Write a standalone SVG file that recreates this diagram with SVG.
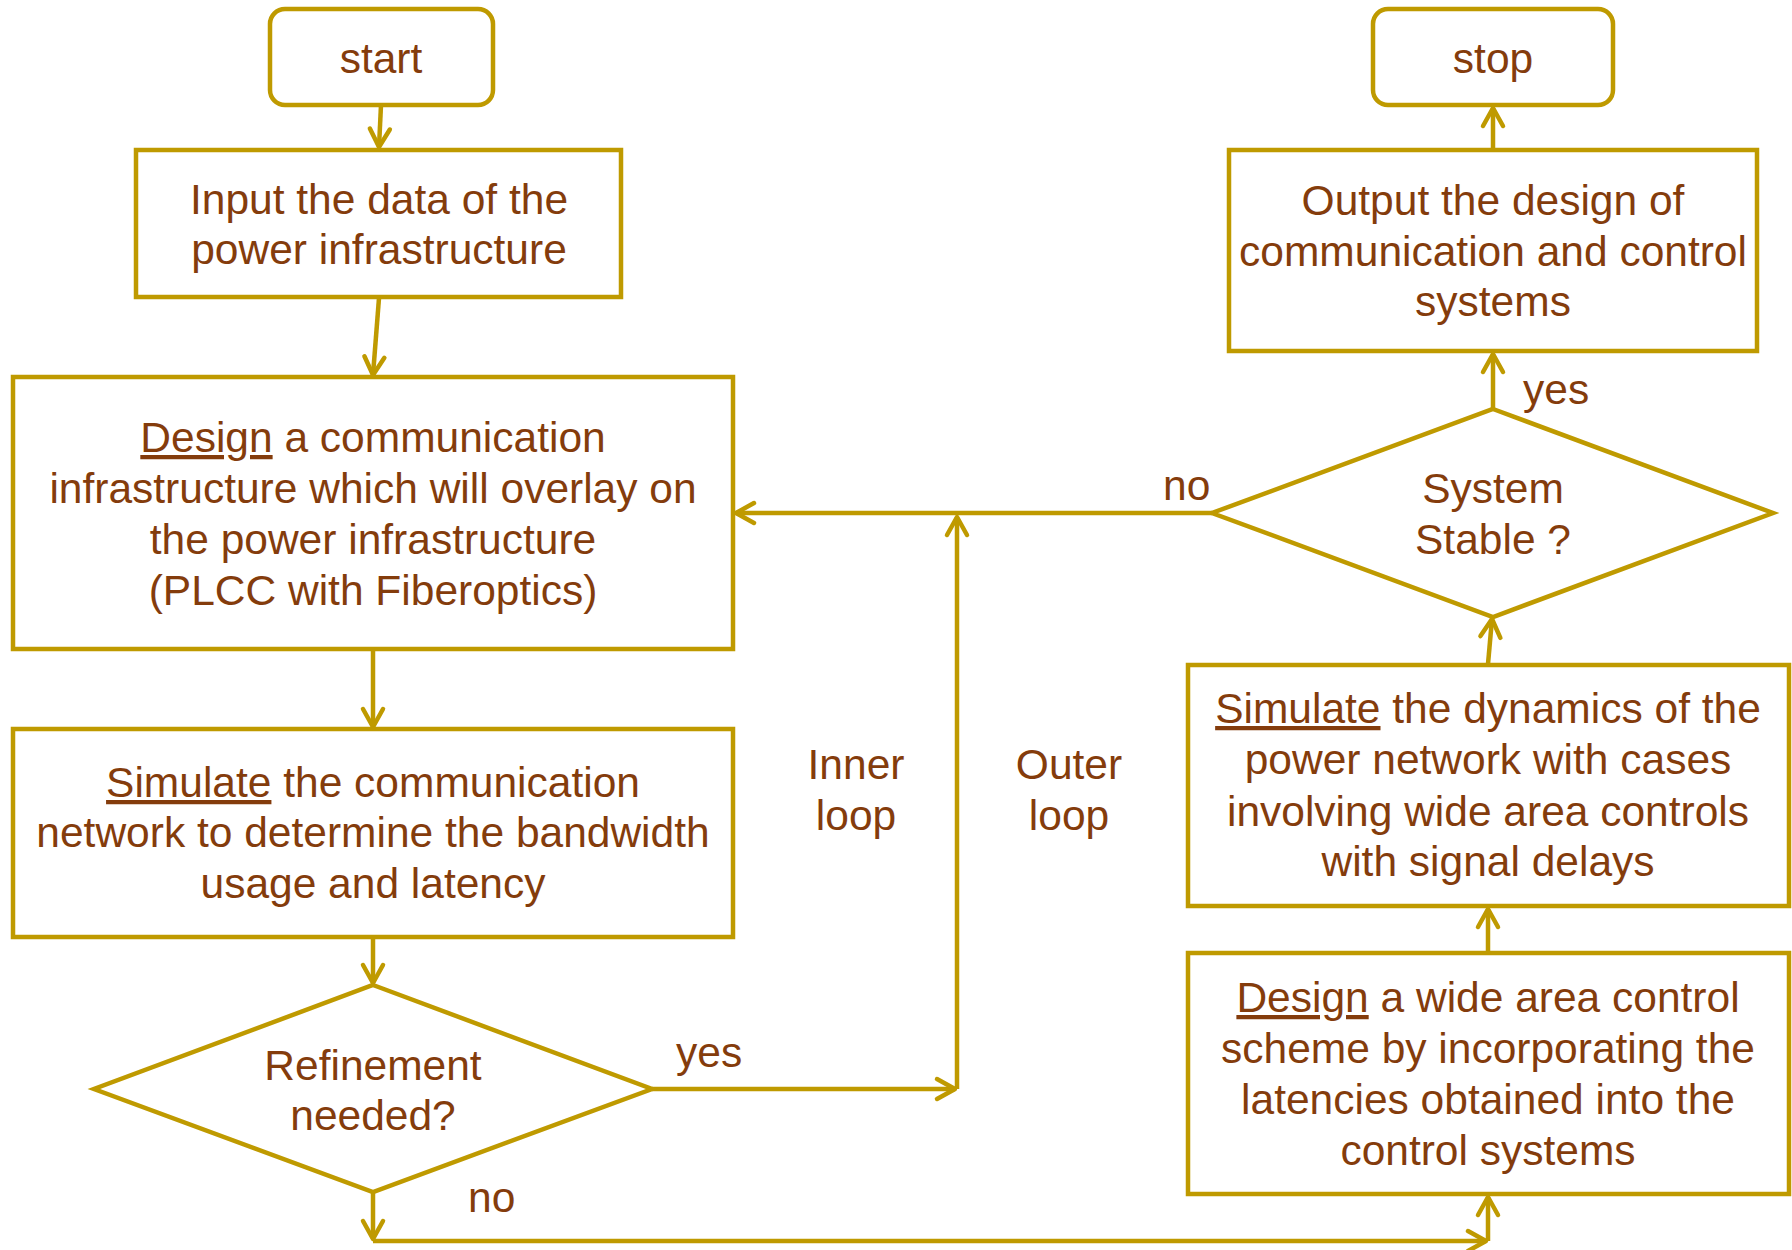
<svg xmlns="http://www.w3.org/2000/svg" width="1792" height="1250" viewBox="0 0 1792 1250">
<defs>
<style>
.shape{fill:#FFFFFF;stroke:#BF9A00;stroke-width:4.5;stroke-linejoin:miter}
.conn{fill:none;stroke:#BF9A00;stroke-width:4.5}
.t{font-family:"Liberation Sans",Arial,sans-serif;font-size:42.5px;fill:#843C0C;text-anchor:middle}
.l{font-family:"Liberation Sans",Arial,sans-serif;font-size:42.5px;fill:#843C0C}
</style>
<marker id="arr" markerUnits="userSpaceOnUse" viewBox="-24 -14 28 28" refX="0" refY="0" markerWidth="28" markerHeight="28" orient="auto">
<path d="M-18,-10 L0,0 L-18,10" fill="none" stroke="#BF9A00" stroke-width="4.5" stroke-linecap="round" stroke-linejoin="round"/>
</marker>
</defs>
<rect width="1792" height="1250" fill="#FFFFFF"/>

<g id="connectors">
<line class="conn" x1="381" y1="105" x2="379" y2="147" marker-end="url(#arr)"/>
<line class="conn" x1="379" y1="298" x2="373" y2="375" marker-end="url(#arr)"/>
<line class="conn" x1="373" y1="650" x2="373" y2="727" marker-end="url(#arr)"/>
<line class="conn" x1="373" y1="938" x2="373" y2="983" marker-end="url(#arr)"/>
<line class="conn" x1="652" y1="1089" x2="955" y2="1089" marker-end="url(#arr)"/>
<line class="conn" x1="957" y1="1089" x2="957" y2="517" marker-end="url(#arr)"/>
<line class="conn" x1="1212" y1="513" x2="736" y2="513" marker-end="url(#arr)"/>
<line class="conn" x1="373" y1="1192" x2="373" y2="1239" marker-end="url(#arr)"/>
<line class="conn" x1="373" y1="1241" x2="1486" y2="1241" marker-end="url(#arr)"/>
<line class="conn" x1="1488" y1="1241" x2="1488" y2="1197" marker-end="url(#arr)"/>
<line class="conn" x1="1488" y1="952" x2="1488" y2="909" marker-end="url(#arr)"/>
<line class="conn" x1="1488" y1="664" x2="1492" y2="619" marker-end="url(#arr)"/>
<line class="conn" x1="1493" y1="409" x2="1493" y2="354" marker-end="url(#arr)"/>
<line class="conn" x1="1493" y1="149" x2="1493" y2="108" marker-end="url(#arr)"/>
</g>

<g id="start">
<rect class="shape" x="270" y="9" width="223" height="96" rx="15"/>
<text class="t" x="381" y="73">start</text>
</g>

<g id="input">
<rect class="shape" x="136" y="150" width="485" height="147"/>
<text class="t" x="379" y="214">Input the data of the</text>
<text class="t" x="379" y="264">power infrastructure</text>
</g>

<g id="design-comm">
<rect class="shape" x="13" y="377" width="720" height="272"/>
<text class="t" x="373" y="452"><tspan text-decoration="underline">Design</tspan> a communication</text>
<text class="t" x="373" y="503">infrastructure which will overlay on</text>
<text class="t" x="373" y="554">the power infrastructure</text>
<text class="t" x="373" y="605">(PLCC with Fiberoptics)</text>
</g>

<g id="simulate-comm">
<rect class="shape" x="13" y="729" width="720" height="208"/>
<text class="t" x="373" y="797"><tspan text-decoration="underline">Simulate</tspan> the communication</text>
<text class="t" x="373" y="847">network to determine the bandwidth</text>
<text class="t" x="373" y="898">usage and latency</text>
</g>

<g id="refinement">
<polygon class="shape" points="373,985 652,1089 373,1192 94,1089"/>
<text class="t" x="373" y="1080">Refinement</text>
<text class="t" x="373" y="1130">needed?</text>
</g>

<g id="stop">
<rect class="shape" x="1373" y="9" width="240" height="96" rx="15"/>
<text class="t" x="1493" y="73">stop</text>
</g>

<g id="output">
<rect class="shape" x="1229" y="150" width="528" height="201"/>
<text class="t" x="1493" y="215">Output the design of</text>
<text class="t" x="1493" y="266">communication and control</text>
<text class="t" x="1493" y="316">systems</text>
</g>

<g id="system-stable">
<polygon class="shape" points="1493,409 1773,513 1493,617 1212,513"/>
<text class="t" x="1493" y="503">System</text>
<text class="t" x="1493" y="554">Stable ?</text>
</g>

<g id="simulate-dyn">
<rect class="shape" x="1188" y="665" width="601" height="241"/>
<text class="t" x="1488" y="723"><tspan text-decoration="underline">Simulate</tspan> the dynamics of the</text>
<text class="t" x="1488" y="774">power network with cases</text>
<text class="t" x="1488" y="826">involving wide area controls</text>
<text class="t" x="1488" y="876">with signal delays</text>
</g>

<g id="design-control">
<rect class="shape" x="1188" y="953" width="601" height="241"/>
<text class="t" x="1488" y="1012"><tspan text-decoration="underline">Design</tspan> a wide area control</text>
<text class="t" x="1488" y="1063">scheme by incorporating the</text>
<text class="t" x="1488" y="1114">latencies obtained into the</text>
<text class="t" x="1488" y="1165">control systems</text>
</g>

<g id="labels">
<text class="t" x="856" y="779">Inner</text>
<text class="t" x="856" y="830">loop</text>
<text class="t" x="1069" y="779">Outer</text>
<text class="t" x="1069" y="830">loop</text>
<text class="l" x="676" y="1067">yes</text>
<text class="l" x="468" y="1212">no</text>
<text class="l" x="1163" y="500">no</text>
<text class="l" x="1523" y="404">yes</text>
</g>
</svg>
